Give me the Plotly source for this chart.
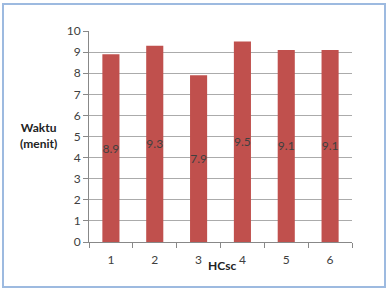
import plotly.graph_objects as go

categories = ["1", "2", "3", "4", "5", "6"]
values = [8.9, 9.3, 7.9, 9.5, 9.1, 9.1]
labels = ["8.9", "9.3", "7.9", "9.5", "9.1", "9.1"]
y_ticks = list(range(0, 11))

L, R, T, B = 89, 37, 31, 48
W, H = 389, 290
pw, ph = W - L - R, H - T - B

def px(x):
    return (x - L) / pw

def py(y):
    return (H - B - y) / ph

fig = go.Figure(go.Bar(
    x=categories, y=values, text=labels,
    textposition="inside", insidetextanchor="middle", constraintext="none",
    textfont=dict(family="Lato", size=12, color="#404040"),
    marker=dict(color="#C0504D", line=dict(width=0)),
    width=0.39, textangle=0,
))

fig.update_layout(
    width=W, height=H,
    margin=dict(l=L, r=R, t=T, b=B),
    paper_bgcolor="white", plot_bgcolor="white",
    showlegend=False,
    font=dict(family="Lato", size=12, color="#404040"),
    xaxis=dict(type="category", tickson="boundaries", ticks="outside", ticklen=5,
               tickcolor="#888888", showline=True, linecolor="#888888", linewidth=1,
               showgrid=False, tickfont=dict(size=12, color="#404040"), ticklabelstandoff=7),
    yaxis=dict(range=[0, 10], tickvals=y_ticks, ticks="outside", ticklen=5,
               tickcolor="#888888", showline=True, linecolor="#888888", linewidth=1,
               showgrid=True, gridcolor="#ababab", gridwidth=1, zeroline=False,
               tickfont=dict(size=12, color="#404040")),
    annotations=[
        dict(text="<b>Waktu<br>(menit)</b>", x=px(38), y=py(135), xref="paper", yref="paper",
             xanchor="center", yanchor="middle",
             showarrow=False, font=dict(family="Lato", size=12, color="#222222"), align="center"),
        dict(text="<b>HCsc</b>", x=px(222), y=py(265), xref="paper", yref="paper",
             xanchor="center", yanchor="middle",
             showarrow=False, font=dict(family="Lato", size=12, color="#222222")),
    ],
    shapes=[dict(type="rect", xref="paper", yref="paper",
                 x0=px(3), x1=px(385), y0=py(287), y1=py(4),
                 line=dict(color="#9DBAE0", width=2), fillcolor="rgba(0,0,0,0)", layer="below")],
)

fig.write_html("out.html")
